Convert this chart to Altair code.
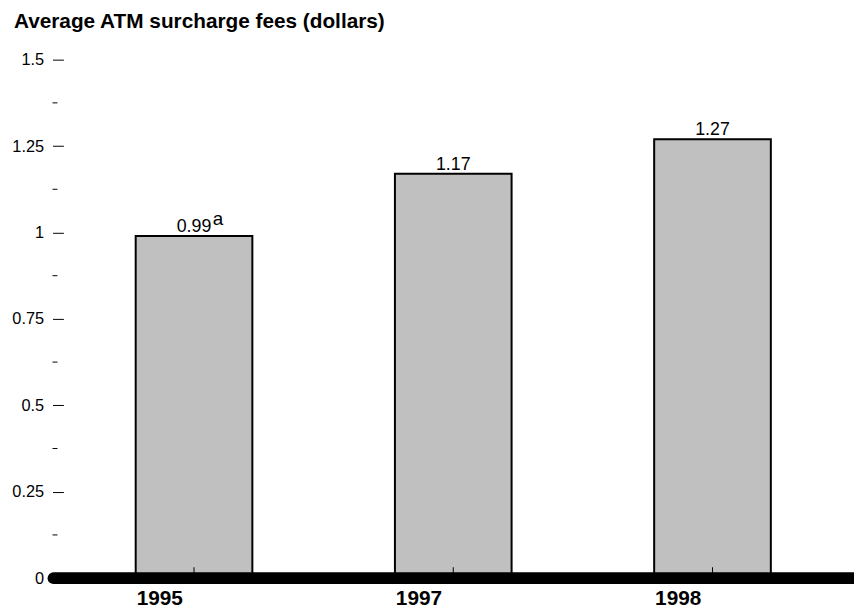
import altair as alt
import pandas as pd

years = ["1995", "1997", "1998"]
fees = [0.99, 1.17, 1.27]
notes = ["a", "", ""]
minor_ticks = [0.125, 0.375, 0.625, 0.875, 1.125, 1.375]
major_ticks = [0, 0.25, 0.5, 0.75, 1, 1.25, 1.5]

W = 786
H = 524

df = pd.DataFrame({"year": years, "fee": fees, "note": notes})
df["label"] = df["fee"].map(lambda v: f"{v:.2f}")
minor_df = pd.DataFrame({"v": minor_ticks})
zero_df = pd.DataFrame({"v": [0]})

FONT = "Liberation Sans"

x_enc = alt.X("year:N", sort=years,
              scale=alt.Scale(paddingInner=0.55, paddingOuter=0.275),
              axis=alt.Axis(title=None, domain=False, ticks=False, labelFont=FONT,
                            labelFontSize=21, labelFontWeight="bold", labelColor="black",
                            labelPadding=10, labelAngle=0, labelAlign="left",
                            labelOffset=-58))
y_scale = alt.Scale(domain=[0, 1.5], nice=False, zero=True)
y_enc = alt.Y("fee:Q", scale=y_scale,
              axis=alt.Axis(title=None, domain=False, grid=False, values=major_ticks,
                            tickSize=11, tickColor="black", tickWidth=1,
                            labelExpr="'' + datum.value", labelFont=FONT, labelFontSize=16.5,
                            labelColor="black", labelPadding=9, offset=1))

bars = alt.Chart(df).mark_bar(color="#c0c0c0", stroke="black", strokeWidth=2).encode(
    x=x_enc, y=y_enc)

vals = alt.Chart(df).mark_text(font=FONT, fontSize=18, baseline="alphabetic", dy=-4,
                               color="black").encode(
    x=alt.X("year:N", sort=years), y=alt.Y("fee:Q", scale=y_scale), text="label:N")

sup = alt.Chart(df).mark_text(font=FONT, fontSize=19, baseline="alphabetic", align="left",
                              dx=19, dy=-11, color="black").encode(
    x=alt.X("year:N", sort=years), y=alt.Y("fee:Q", scale=y_scale), text="note:N")

minor = alt.Chart(minor_df).mark_rule(color="black", strokeWidth=1).encode(
    y=alt.Y("v:Q", scale=y_scale), x=alt.value(-12), x2=alt.value(-7))

xticks = alt.Chart(df).mark_rule(color="black", strokeWidth=1).encode(
    x=alt.X("year:N", sort=years), y=alt.value(H - 11), y2=alt.value(H - 4))

baseline = alt.Chart(zero_df).mark_rule(color="black", strokeWidth=12, strokeCap="round").encode(
    y=alt.Y("v:Q", scale=y_scale), x=alt.value(-11), x2=alt.value(W + 20))

chart = alt.layer(bars, xticks, vals, sup, minor, baseline).properties(
    width=W, height=H,
    title=alt.TitleParams("Average ATM surcharge fees (dollars)", anchor="start",
                          frame="group", font=FONT, fontSize=21, fontWeight="bold",
                          color="black", dx=-51, offset=20),
    autosize=alt.AutoSizeParams(type="none"),
    padding={"left": 57, "top": 49, "right": 12, "bottom": 30},
).configure_view(stroke=None)

chart.save("out.html", embed_options={"renderer": "svg", "actions": False})
